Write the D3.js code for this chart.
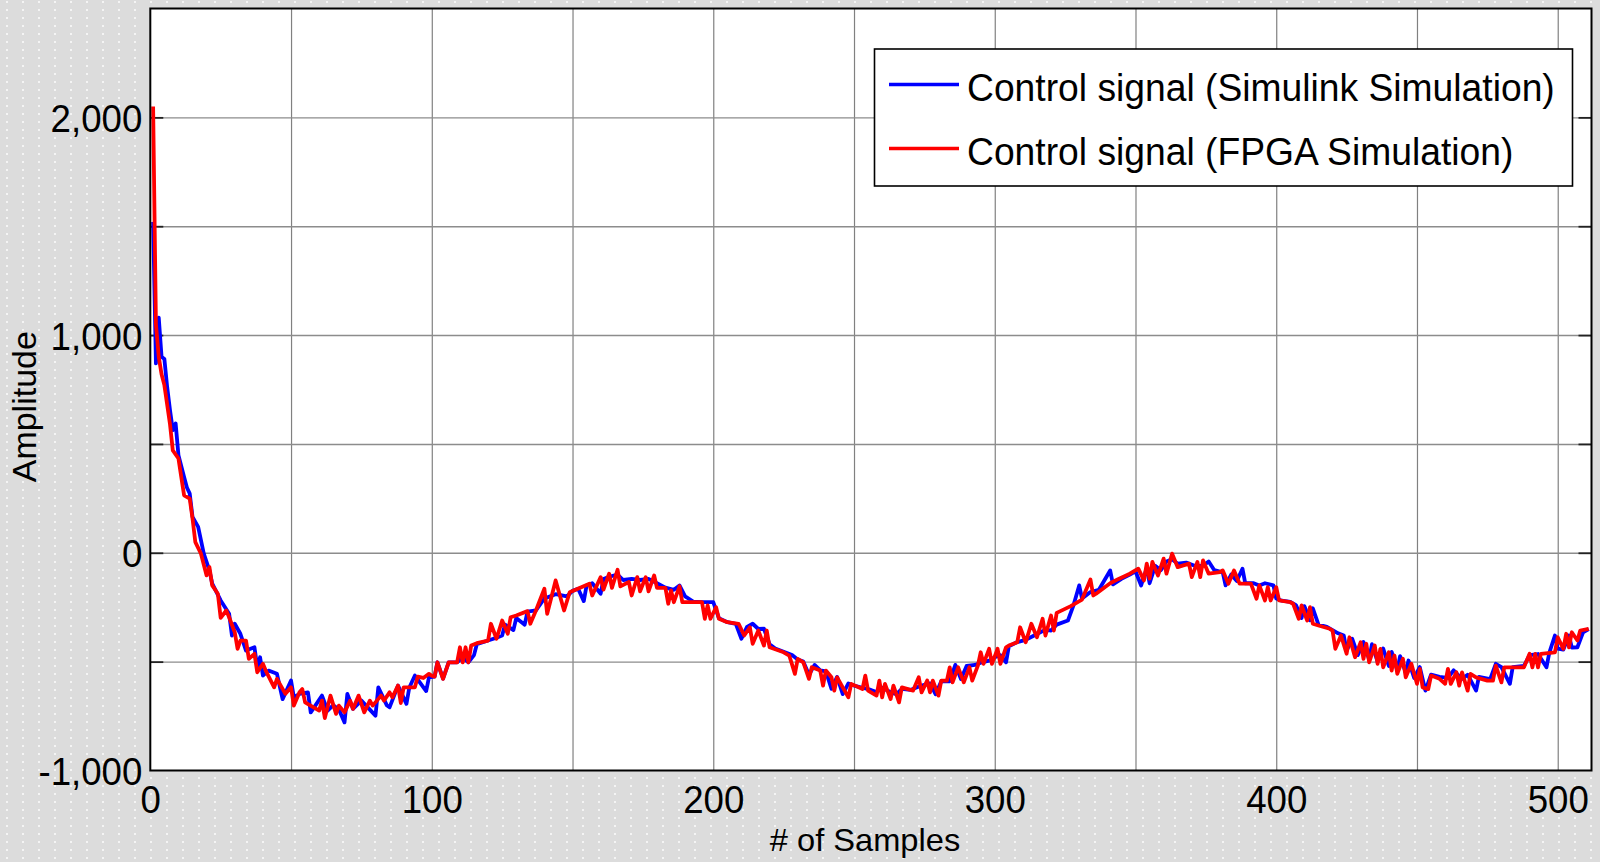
<!DOCTYPE html>
<html>
<head>
<meta charset="utf-8">
<script src="https://cdn.jsdelivr.net/npm/d3@7"></script>
<style>
  body { margin: 0; background: #dcdcdc; }
  svg { display: block; }
</style>
</head>
<body>
<div id="chart"></div>
<script>
// tick labels / grid
const sampleTicks = [0, 100, 200, 300, 400, 500];
const sampleGrid = [50, 100, 150, 200, 250, 300, 350, 400, 450, 500];
const ampTicks = [-1000, 0, 1000, 2000];
const ampGrid = [-500, 0, 500, 1000, 1500, 2000];

const seriesNames = ["Control signal (Simulink Simulation)", "Control signal (FPGA Simulation)"];
const seriesColors = ["#0000ff", "#ff0000"];

// [sample, amplitude]
const simSignal = [[1,1520],[2,870],[3,1080],[4,900],[5,890],[6,760],[7,655],[8,563],[9,594],[10,448],[12,348],[13,300],[14,272],[15,165],[17,119],[19,-4],[21,-81],[22,-142],[25,-219],[28,-280],[29,-380],[30,-326],[32,-372],[34,-449],[37,-434],[38,-526],[39,-480],[40,-564],[42,-541],[45,-556],[47,-672],[50,-587],[51,-664],[53,-648],[56,-641],[57,-733],[61,-656],[63,-725],[65,-700],[67,-720],[69,-779],[70,-648],[72,-717],[75,-679],[80,-748],[81,-618],[84,-700],[85,-710],[88,-610],[91,-694],[92,-620],[94,-564],[96,-600],[98,-635],[99,-572],[101,-569],[102,-503],[104,-578],[106,-503],[109,-503],[111,-480],[113,-503],[115,-470],[116,-420],[120,-403],[123,-390],[125,-380],[126,-330],[129,-355],[130,-300],[133,-330],[134,-270],[137,-265],[140,-210],[144,-190],[148,-200],[150,-175],[152,-165],[154,-222],[155,-150],[157,-140],[160,-188],[161,-120],[163,-110],[166,-100],[168,-125],[171,-120],[174,-125],[177,-120],[180,-140],[183,-160],[186,-170],[188,-150],[190,-200],[193,-225],[196,-227],[200,-227],[202,-300],[205,-319],[208,-326],[210,-395],[212,-340],[214,-326],[216,-350],[218,-349],[220,-420],[222,-440],[225,-455],[228,-470],[230,-490],[232,-500],[234,-560],[236,-515],[238,-540],[240,-545],[242,-625],[244,-570],[246,-649],[248,-600],[250,-610],[253,-620],[256,-630],[258,-640],[260,-620],[263,-640],[265,-650],[267,-625],[270,-630],[272,-620],[274,-610],[277,-600],[279,-650],[281,-590],[284,-590],[286,-515],[288,-580],[290,-520],[293,-515],[295,-505],[298,-495],[300,-480],[302,-470],[304,-503],[305,-430],[308,-410],[311,-400],[314,-380],[317,-360],[319,-355],[320,-357],[322,-330],[326,-311],[328,-240],[330,-150],[331,-210],[334,-180],[337,-170],[341,-81],[342,-145],[345,-120],[348,-100],[350,-85],[352,-150],[354,-70],[355,-140],[357,-60],[359,-80],[361,-40],[363,-30],[365,-50],[368,-45],[371,-60],[374,-60],[376,-40],[378,-80],[381,-90],[382,-150],[384,-100],[386,-130],[388,-73],[389,-140],[392,-140],[394,-150],[396,-140],[399,-150],[400,-210],[402,-220],[405,-225],[407,-240],[409,-300],[410,-245],[412,-310],[413,-255],[415,-330],[418,-340],[420,-355],[422,-370],[424,-380],[425,-450],[427,-395],[429,-470],[431,-410],[433,-490],[434,-420],[436,-500],[438,-440],[440,-520],[441,-455],[443,-540],[444,-475],[446,-550],[447,-495],[449,-575],[451,-525],[453,-633],[455,-560],[458,-570],[461,-575],[463,-540],[466,-580],[468,-560],[471,-633],[472,-570],[476,-580],[478,-510],[480,-525],[483,-602],[484,-525],[488,-520],[490,-470],[493,-465],[496,-526],[497,-460],[499,-380],[500,-440],[502,-445],[504,-380],[505,-435],[507,-434],[509,-365],[511,-350]];

const fpgaSignal = [[1,2050],[2,1050],[3,900],[4,820],[5,770],[6,680],[7,590],[8,470],[10,433],[11,348],[12,264],[14,249],[15,157],[16,49],[18,-4],[20,-104],[21,-66],[22,-150],[24,-188],[25,-299],[27,-265],[28,-296],[30,-365],[31,-441],[32,-403],[34,-403],[35,-487],[37,-464],[38,-549],[40,-510],[41,-541],[44,-618],[45,-579],[48,-648],[50,-618],[51,-702],[53,-641],[54,-626],[55,-687],[58,-710],[60,-725],[61,-679],[62,-759],[64,-656],[66,-740],[67,-702],[69,-733],[71,-679],[72,-717],[74,-656],[76,-733],[78,-679],[79,-702],[82,-656],[83,-679],[85,-641],[86,-664],[88,-610],[89,-690],[90,-618],[94,-618],[95,-569],[97,-575],[99,-556],[100,-565],[101,-569],[102,-503],[104,-579],[106,-503],[109,-503],[110,-434],[111,-503],[112,-434],[113,-503],[114,-426],[116,-415],[120,-403],[121,-326],[123,-395],[125,-311],[127,-372],[128,-296],[130,-288],[134,-268],[135,-326],[137,-265],[140,-165],[141,-280],[144,-127],[147,-265],[149,-181],[156,-142],[157,-196],[160,-112],[161,-169],[163,-96],[164,-161],[166,-78],[167,-154],[170,-134],[171,-196],[173,-112],[174,-177],[176,-112],[177,-177],[179,-104],[180,-161],[183,-161],[184,-234],[185,-173],[186,-227],[188,-154],[189,-227],[196,-227],[197,-303],[198,-242],[199,-303],[201,-250],[202,-303],[205,-319],[209,-326],[211,-380],[213,-342],[214,-418],[216,-357],[218,-426],[219,-357],[220,-434],[225,-457],[227,-472],[229,-556],[230,-487],[232,-503],[234,-579],[235,-526],[238,-541],[239,-610],[240,-541],[242,-572],[243,-633],[244,-572],[248,-664],[249,-602],[253,-626],[254,-564],[255,-633],[258,-656],[259,-587],[260,-664],[261,-602],[263,-672],[264,-610],[266,-687],[267,-618],[271,-633],[273,-572],[274,-641],[276,-587],[277,-641],[278,-587],[280,-656],[281,-587],[283,-587],[284,-526],[285,-595],[287,-526],[289,-595],[291,-526],[292,-587],[294,-518],[295,-457],[296,-510],[298,-441],[299,-510],[301,-441],[302,-510],[304,-434],[305,-426],[308,-411],[309,-342],[311,-411],[313,-326],[315,-388],[317,-303],[318,-380],[320,-288],[321,-357],[322,-276],[327,-245],[331,-215],[334,-123],[335,-196],[336,-188],[341,-140],[344,-120],[348,-96],[351,-73],[353,-127],[354,-50],[355,-119],[356,-42],[358,-104],[360,-27],[361,-96],[363,-4],[365,-66],[369,-50],[370,-112],[372,-42],[373,-112],[374,-35],[376,-96],[380,-89],[381,-81],[383,-142],[385,-81],[387,-142],[391,-142],[393,-211],[394,-150],[396,-219],[397,-158],[398,-219],[400,-158],[401,-219],[405,-227],[406,-234],[408,-303],[409,-242],[411,-311],[412,-250],[413,-326],[415,-334],[419,-349],[420,-357],[421,-441],[423,-380],[425,-464],[426,-388],[428,-480],[430,-411],[431,-487],[432,-418],[433,-503],[435,-426],[436,-510],[437,-441],[438,-526],[440,-457],[441,-541],[442,-472],[443,-556],[445,-487],[446,-572],[448,-510],[450,-602],[451,-533],[452,-618],[454,-626],[455,-564],[458,-579],[460,-602],[461,-533],[462,-602],[464,-549],[465,-610],[466,-549],[468,-633],[469,-556],[471,-572],[475,-587],[477,-587],[478,-518],[480,-595],[481,-526],[488,-526],[490,-464],[491,-526],[492,-464],[493,-526],[494,-464],[499,-457],[500,-388],[502,-441],[503,-372],[504,-434],[505,-365],[507,-403],[508,-357],[511,-349]];

const width = 1600, height = 862;
const plot = { left: 150.3, right: 1591.5, top: 8.5, bottom: 770.5 };
const fontFamily = "'Liberation Sans', Arial, sans-serif";

const svg = d3.select("#chart").append("svg")
  .attr("width", width)
  .attr("height", height);

// dotted grey backdrop
const defs = svg.append("defs");
const pat = defs.append("pattern")
  .attr("id", "dots")
  .attr("patternUnits", "userSpaceOnUse")
  .attr("width", 16).attr("height", 8);
pat.append("rect").attr("width", 16).attr("height", 8).attr("fill", "#dcdcdc");
pat.append("rect").attr("x", 6).attr("y", 1).attr("width", 2).attr("height", 2).attr("fill", "#f4f4f4");
svg.append("rect").attr("width", width).attr("height", height).attr("fill", "url(#dots)");

const x = d3.scaleLinear().domain([0, 512]).range([plot.left, plot.right]);
const y = d3.scaleLinear().domain([-1000, 2500]).range([plot.bottom, plot.top]);

svg.append("rect")
  .attr("x", plot.left).attr("y", plot.top)
  .attr("width", plot.right - plot.left)
  .attr("height", plot.bottom - plot.top)
  .attr("fill", "#fff");

// grid lines
const gx = svg.append("g")
  .attr("transform", `translate(0,${plot.bottom})`)
  .call(d3.axisBottom(x).tickValues(sampleGrid).tickSize(-(plot.bottom - plot.top)).tickFormat(""));
gx.select(".domain").remove();
gx.selectAll("line").attr("stroke", "#808080").attr("stroke-width", 1.2);

const gy = svg.append("g")
  .attr("transform", `translate(${plot.left},0)`)
  .call(d3.axisLeft(y).tickValues(ampGrid).tickSize(-(plot.right - plot.left)).tickFormat(""));
gy.select(".domain").remove();
gy.selectAll("line").attr("stroke", "#8c8c8c").attr("stroke-width", 1.4);

// inward ticks on left / right
const tl = svg.append("g")
  .attr("transform", `translate(${plot.left},0)`)
  .call(d3.axisRight(y).tickValues(ampGrid).tickSize(13).tickFormat(""));
tl.select(".domain").remove();
tl.selectAll("line").attr("stroke", "#222").attr("stroke-width", 1.8);
const tr = svg.append("g")
  .attr("transform", `translate(${plot.right},0)`)
  .call(d3.axisLeft(y).tickValues(ampGrid).tickSize(13).tickFormat(""));
tr.select(".domain").remove();
tr.selectAll("line").attr("stroke", "#222").attr("stroke-width", 1.8);

// series
const line = d3.line().x(d => x(d[0])).y(d => y(d[1]));
[simSignal, fpgaSignal].forEach((data, i) => {
  svg.append("path")
    .datum(data)
    .attr("fill", "none")
    .attr("stroke", seriesColors[i])
    .attr("stroke-width", 3.8)
    .attr("stroke-linejoin", "round")
    .attr("d", line);
});

// frame
svg.append("rect")
  .attr("x", plot.left).attr("y", plot.top)
  .attr("width", plot.right - plot.left)
  .attr("height", plot.bottom - plot.top)
  .attr("fill", "none")
  .attr("stroke", "#000")
  .attr("stroke-width", 2);

// tick labels
const fmt = d => d3.format(",")(d).replace("\u2212", "-");
const ax = svg.append("g")
  .attr("transform", `translate(0,${plot.bottom})`)
  .call(d3.axisBottom(x).tickValues(sampleTicks).tickSize(0).tickPadding(14.5));
ax.select(".domain").remove();
ax.selectAll("text")
  .attr("font-family", fontFamily).attr("font-size", 39).attr("fill", "#000")
  .attr("transform", "scale(0.94,1)");

const ay = svg.append("g")
  .attr("transform", `translate(${plot.left},0)`)
  .call(d3.axisLeft(y).tickValues(ampTicks).tickSize(0).tickPadding(8.5).tickFormat(fmt));
ay.select(".domain").remove();
ay.selectAll("text")
  .attr("font-family", fontFamily).attr("font-size", 39).attr("fill", "#000")
  .attr("dy", "0.36em")
  .attr("transform", "scale(0.94,1)");

// axis titles
svg.append("text")
  .attr("transform", "translate(865,850.7) scale(1.07,1)")
  .attr("text-anchor", "middle")
  .attr("font-family", fontFamily).attr("font-size", 30.5)
  .text("# of Samples");

svg.append("text")
  .attr("transform", "translate(36,406.7) rotate(-90)")
  .attr("text-anchor", "middle")
  .attr("font-family", fontFamily).attr("font-size", 34)
  .text("Amplitude");

// legend
const legend = svg.append("g");
legend.append("rect")
  .attr("x", 874.5).attr("y", 49)
  .attr("width", 698).attr("height", 137)
  .attr("fill", "#fff").attr("stroke", "#000").attr("stroke-width", 1.6);
seriesNames.forEach((name, i) => {
  const yy = 84.5 + i * 64;
  legend.append("line")
    .attr("x1", 889).attr("x2", 959)
    .attr("y1", yy).attr("y2", yy)
    .attr("stroke", seriesColors[i]).attr("stroke-width", 3.6);
  legend.append("text")
    .attr("transform", `translate(967,${yy + 16.5}) scale(0.955,1)`)
    .attr("font-family", fontFamily).attr("font-size", 39)
    .text(name);
});
</script>
</body>
</html>
